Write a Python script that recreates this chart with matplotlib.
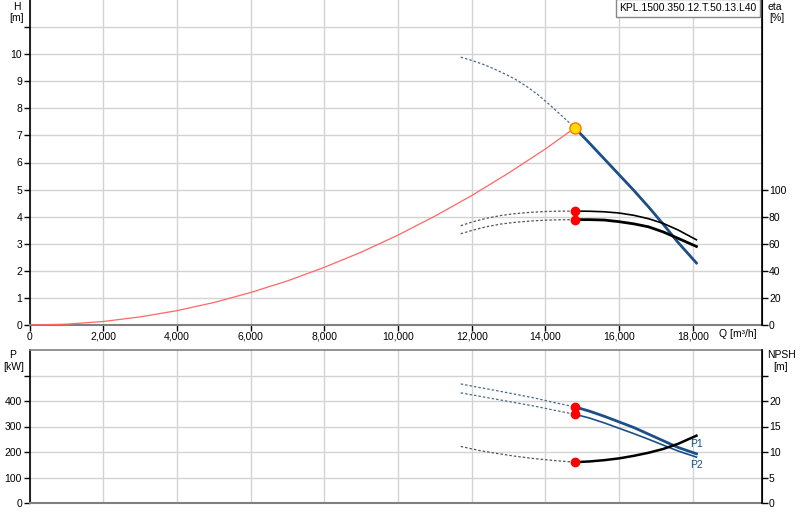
import matplotlib
matplotlib.use("Agg")
import matplotlib.pyplot as plt
from matplotlib.ticker import FixedLocator, FuncFormatter

plt.rcParams['font.family'] = ['Liberation Sans', 'DejaVu Sans']
FS = 7.5

# ---------------- data ----------------
# system curve (H vs Q)
sys_q = [0, 1000, 2000, 3000, 4000, 5000, 6000, 7000, 8000, 9000, 10000, 11000, 12000, 13000, 14000, 14800]
sys_h = [0, 0.03, 0.13, 0.30, 0.53, 0.83, 1.20, 1.63, 2.13, 2.69, 3.32, 4.02, 4.78, 5.61, 6.50, 7.28]

# pump head curve
h_ext_q = [11700, 12000, 12300, 12600, 12900, 13200, 13500, 13800, 14100, 14400, 14800]
h_ext_h = [9.89, 9.77, 9.63, 9.46, 9.27, 9.06, 8.80, 8.50, 8.15, 7.78, 7.28]
h_q = [14800, 15200, 15600, 16000, 16400, 16800, 17200, 17600, 18100]
h_h = [7.28, 6.71, 6.13, 5.55, 4.97, 4.36, 3.72, 3.05, 2.29]

# efficiency curves
eta_ext_q = [11700, 12000, 12400, 12800, 13200, 13600, 14000, 14400, 14800]
eta1_ext = [73.3, 76.0, 78.8, 80.9, 82.3, 83.2, 83.8, 84.1, 84.1]
eta2_ext = [67.4, 69.8, 72.6, 74.6, 75.9, 76.8, 77.4, 77.7, 77.8]
eta_q = [14800, 15200, 15600, 16000, 16400, 16800, 17200, 17600, 18100]
eta1 = [84.1, 84.0, 83.6, 82.7, 81.0, 78.5, 75.0, 70.2, 62.9]
eta2 = [77.8, 77.8, 77.5, 76.3, 74.7, 72.5, 68.7, 64.0, 58.0]

# power curves
p_ext_q = [11700, 12200, 12700, 13200, 13700, 14200, 14800]
p1_ext = [467, 453, 440, 426, 412, 395, 377]
p2_ext = [432, 419, 406, 393, 380, 365, 348]
p_q = [14800, 15200, 15600, 16000, 16400, 16800, 17200, 17600, 18100]
p1 = [377, 360, 340, 318, 296, 270, 244, 218, 193]
p2 = [348, 333, 314, 293, 272, 250, 227, 204, 180]

# NPSH curve
npsh_ext_q = [11700, 12200, 12700, 13200, 13700, 14200, 14800]
npsh_ext = [11.1, 10.3, 9.7, 9.15, 8.7, 8.35, 8.0]
npsh_q = [14800, 15200, 15600, 16000, 16400, 16800, 17200, 17600, 18100]
npsh = [8.0, 8.15, 8.4, 8.75, 9.25, 9.85, 10.6, 11.6, 13.2]

op_q = 14800
op_h = 7.28

x_ticks = [0, 2000, 4000, 6000, 8000, 10000, 12000, 14000, 16000, 18000]
title = "KPL.1500.350.12.T.50.13.L40"

BLUE = '#1b4f86'
GRID = '#d3d3d3'
DASH = (0, (2.0, 1.6))

fig = plt.figure(figsize=(8, 5.2), dpi=100)
L = 29.7 / 800
W = (762 - 29.7) / 800
ax = fig.add_axes([L, (520 - 325) / 520, W, 325 / 520])
ax2 = ax.twinx()
bx = fig.add_axes([L, (520 - 503) / 520, W, 153 / 520])
bx2 = bx.twinx()

XMAX = 19880
for a in (ax, bx):
    a.set_xlim(0, XMAX)
    a.xaxis.set_major_locator(FixedLocator(x_ticks))
    a.grid(True, color=GRID, lw=1.0)
    a.set_axisbelow(True)
    a.tick_params(labelsize=FS, length=4, width=1, colors='black', pad=1.5)
    a.spines['top'].set_visible(False)
    a.spines['left'].set_color('black')
    a.spines['left'].set_linewidth(1.2)
    a.spines['bottom'].set_color('#808080')
    a.spines['bottom'].set_linewidth(1.5)

ax.tick_params(axis='x', pad=1)
ax.xaxis.set_major_formatter(FuncFormatter(lambda v, p: f"{int(v):,}"))
bx.tick_params(axis='x', labelbottom=False, length=0)
bx.spines['top'].set_visible(True)
bx.spines['top'].set_color('#808080')
bx.spines['top'].set_linewidth(1.2)

# H axis
ax.set_ylim(0, 12)
ax.yaxis.set_major_locator(FixedLocator(list(range(0, 12))))
ax.yaxis.set_major_formatter(FuncFormatter(lambda v, p: '' if v > 10 else f"{int(v)}"))
ax2.set_ylim(0, 240)
ax2.yaxis.set_major_locator(FixedLocator([0, 20, 40, 60, 80, 100]))
ax2.tick_params(labelsize=FS, length=4, width=1, pad=1)
for a in (ax2, bx2):
    a.spines['right'].set_color('black')
    a.spines['right'].set_linewidth(1.2)
    a.spines['top'].set_visible(False)
    a.spines['left'].set_visible(False)
    a.spines['bottom'].set_visible(False)

# P axis
bx.set_ylim(0, 600)
bx.yaxis.set_major_locator(FixedLocator([0, 100, 200, 300, 400, 500]))
bx.yaxis.set_major_formatter(FuncFormatter(lambda v, p: '' if v > 400 else f"{int(v)}"))
bx2.set_ylim(0, 30)
bx2.yaxis.set_major_locator(FixedLocator([0, 5, 10, 15, 20, 25]))
bx2.yaxis.set_major_formatter(FuncFormatter(lambda v, p: '' if v > 20 else f"{int(v)}"))
bx2.tick_params(labelsize=FS, length=4, width=1, pad=1)

# ---- top panel curves ----
ax.plot(sys_q, sys_h, color='#ff6666', lw=0.9, zorder=3)
ax.plot(h_ext_q, h_ext_h, color='#4a6a90', lw=0.9, ls=DASH, zorder=3)
ax.plot(h_q, h_h, color=BLUE, lw=2.0, zorder=4)
ax2.plot(eta_ext_q, eta1_ext, color='#555555', lw=0.9, ls=DASH)
ax2.plot(eta_ext_q, eta2_ext, color='#555555', lw=0.9, ls=DASH)
ax2.plot(eta_q, eta1, color='black', lw=1.2)
ax2.plot(eta_q, eta2, color='black', lw=2.0)
ax2.plot([eta_q[0]], [eta1[0]], 'o', color='red', ms=6, zorder=5)
ax2.plot([eta_q[0]], [eta2[0]], 'o', color='red', ms=6, zorder=5)
ax2.plot([op_q], [op_h * 20], 'o', mfc='#ffdd00', mec='#ff7700', mew=1.0, ms=8, zorder=6)

# ---- bottom panel curves ----
bx.plot(p_ext_q, p1_ext, color='#4a6a90', lw=0.9, ls=DASH)
bx.plot(p_ext_q, p2_ext, color='#4a6a90', lw=0.9, ls=DASH)
bx.plot(p_q, p1, color=BLUE, lw=2.0)
bx.plot(p_q, p2, color=BLUE, lw=1.2)
bx.plot([p_q[0]], [p1[0]], 'o', color='red', ms=6, zorder=5)
bx.plot([p_q[0]], [p2[0]], 'o', color='red', ms=6, zorder=5)
bx2.plot(npsh_ext_q, npsh_ext, color='#555555', lw=0.9, ls=DASH)
bx2.plot(npsh_q, npsh, color='black', lw=1.8)
bx2.plot([npsh_q[0]], [npsh[0]], 'o', color='red', ms=6, zorder=5)
bx.text(p_q[-1], p1[-1] + 18, 'P1', color=BLUE, fontsize=FS, ha='center', va='bottom')
bx.text(p_q[-1], p2[-1] - 10, 'P2', color=BLUE, fontsize=FS, ha='center', va='top')

# ---- texts ----
def ftext(x, y, s, **kw):
    fig.text(x / 800, 1 - y / 520, s, fontsize=FS, va='center', **kw)

ftext(17, 7, 'H', ha='center')
ftext(17, 18, '[m]', ha='center')
ftext(775, 7, 'eta', ha='center')
ftext(777, 18, '[%]', ha='center')
ftext(738, 334, 'Q [m³/h]', ha='center')
ftext(13, 355, 'P', ha='center')
ftext(14, 367, '[kW]', ha='center')
ftext(781, 355, 'NPSH', ha='center')
ftext(781, 367, '[m]', ha='center')

fig.text(688 / 800, 1 - 8 / 520, title, fontsize=FS, ha='center', va='center',
         bbox=dict(boxstyle='square,pad=0.35', fc='white', ec='#888888', lw=1.0))

fig.savefig('out.png', dpi=100)
